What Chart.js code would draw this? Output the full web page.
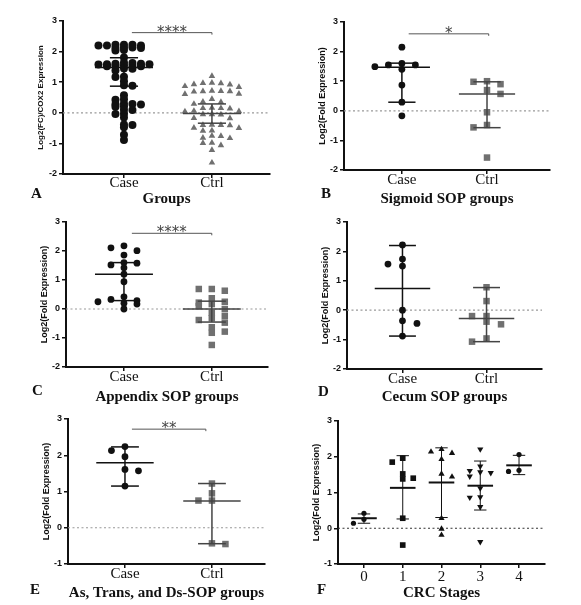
<!DOCTYPE html>
<html><head><meta charset="utf-8">
<script src="https://cdn.jsdelivr.net/npm/chart.js@4.4.0/dist/chart.umd.min.js"></script>
<style>
html,body{margin:0;padding:0;background:#fff;width:581px;height:605px;overflow:hidden;position:relative;}
canvas{position:absolute;}
.lt{position:absolute;font:bold 15px 'Liberation Serif',serif;color:#111;line-height:18px;}
</style></head><body>
<script>
// ---------------- data ----------------
const groupLabels = ['Case', 'Ctrl'];
const stageLabels = ['0', '1', '2', '3', '4'];
const yTicksFull = [-2, -1, 0, 1, 2, 3];
const yTicksShort = [-1, 0, 1, 2, 3];

// Panel A: Groups
const caseA = [2.22,2.22,2.22,2.2,2.2,2.2,2.13,2.13,2.12,2.12,2.05,2.04,1.81,1.64,1.63,1.6,1.6,1.59,1.59,1.58,1.55,1.54,1.53,1.52,1.52,1.45,1.44,1.38,1.18,1.17,1.03,0.9,0.88,0.57,0.44,0.43,0.3,0.29,0.28,0.27,0.21,0.2,0.1,0.09,-0.03,-0.04,-0.15,-0.4,-0.38,-0.47,-0.72,-0.89];
const ctrlA = [1.2,0.98,0.97,0.96,0.93,0.92,0.87,0.84,0.72,0.71,0.7,0.7,0.69,0.62,0.61,0.45,0.36,0.35,0.29,0.16,0.15,0.15,0.14,0.06,0.05,0.04,-0.05,-0.05,-0.06,-0.17,-0.18,-0.39,-0.4,-0.4,-0.41,-0.49,-0.5,-0.58,-0.59,-0.75,-0.76,-0.82,-0.83,-0.98,-0.99,-1.06,-1.22,-1.63];
// Panel B: Sigmoid SOP groups
const caseB = [2.15,1.6,1.55,1.55,1.49,1.4,0.87,0.29,-0.17];
const ctrlB = [1.0,0.98,0.9,0.7,0.57,-0.05,-0.48,-0.56,-1.58];
// Panel C: Appendix SOP groups
const caseC = [2.18,2.11,2.01,1.86,1.6,1.58,1.52,1.42,1.2,0.94,0.42,0.33,0.29,0.25,0.2,0.17,0.0];
const ctrlC = [0.69,0.69,0.63,0.37,0.25,0.22,0.17,0.1,0.0,-0.13,-0.24,-0.32,-0.38,-0.47,-0.63,-0.78,-0.82,-1.24];
// Panel D: Cecum SOP groups
const caseD = [2.22,1.74,1.57,1.5,0.0,-0.36,-0.45,-0.88];
const ctrlD = [0.78,0.31,-0.2,-0.2,-0.39,-0.48,-0.96,-1.07];
// Panel E: As, Trans, and Ds-SOP groups
const caseE = [2.24,2.13,1.96,1.61,1.57,1.15];
const ctrlE = [1.22,0.95,0.75,0.75,-0.43,-0.45];
// Panel F: CRC stages
const stage0 = [0.42,0.25,0.14];
const stage1 = [1.96,1.85,1.52,1.4,1.38,0.28,-0.47];
const stage2 = [2.21,2.14,2.1,1.93,1.52,1.44,0.28,-0.02,-0.19];
const stage3 = [2.21,1.73,1.61,1.57,1.55,1.45,1.12,0.87,0.86,0.6,-0.38];
const stage4 = [2.06,1.62,1.59];

// summary lines: [median, lower quartile, upper quartile]
const statsA = [[1.48,0.87,1.8],[-0.02,-0.34,0.29]];
const statsB = [[1.47,0.29,1.61],[0.57,-0.57,0.98]];
const statsC = [[1.2,0.29,1.6],[0.0,-0.45,0.27]];
const statsD = [[0.74,-0.88,2.2],[-0.28,-1.07,0.77]];
const statsE = [[1.79,1.15,2.23],[0.74,-0.44,1.22]];
const statsF = [[0.28,0.14,0.4],[1.13,0.26,2.03],[1.28,0.3,2.25],[1.19,0.51,1.88],[1.76,1.5,2.04]];

// significance brackets: [label, y level, from, to]
const sigA = ['****', 2.62, 1.09, 2.0];
const sigB = ['*', 2.6, 1.08, 2.02];
const sigC = ['****', 2.61, 1.09, 2.0];
const sigE = ['**', 2.72, 1.08, 1.93];

// ---------------- layout / styling ----------------
const BLACK = '#111', GREY = '#707070';
const panels = [
 {letter:'A', lx:31, ly:184, axisX:63, top:21, bottom:174, right:270, hx:34, tp:-4, xmin:0.307, xmax:2.66,
  ymin:-2, ymax:3, yticks:yTicksFull, ytitle:'Log2(FC)/COX2 Expression', ytSize:8, title:'Groups',
  cats:groupLabels, groups:[caseA, ctrlA], stats:statsA, sig:sigA, d:[8.5, 9], h:[2.2, 5],
  styles:[{ps:'circle',r:4,c:BLACK,lc:BLACK},{ps:'triangle',r:3.8,c:GREY,lc:'#444'}], zc:'#999', medW:1.5, barW:1.5},
 {letter:'B', lx:321, ly:184, axisX:344, top:22, bottom:170, right:550, hx:38, tp:-3, xmin:0.32, xmax:2.74,
  ymin:-2, ymax:3, yticks:yTicksFull, ytitle:'Log2(Fold Expression)', ytSize:9, title:'Sigmoid SOP groups',
  cats:groupLabels, groups:[caseB, ctrlB], stats:statsB, sig:sigB, d:[13.5, 13.5], h:[5, 5],
  styles:[{ps:'circle',r:3.4,c:BLACK,lc:BLACK},{ps:'rect',r:4.6,c:GREY,lc:'#444'}], zc:'#999', medW:1.5, barW:1.5},
 {letter:'C', lx:32, ly:381, axisX:66, top:222, bottom:367, right:268, hx:39, tp:-3, xmin:0.34, xmax:2.64,
  ymin:-2, ymax:3, yticks:yTicksFull, ytitle:'Log2(Fold Expression)', ytSize:9, title:'Appendix SOP groups',
  cats:groupLabels, groups:[caseC, ctrlC], stats:statsC, sig:sigC, d:[13, 13], h:[5, 5],
  styles:[{ps:'circle',r:3.4,c:BLACK,lc:BLACK},{ps:'rect',r:4.6,c:GREY,lc:'#444'}], zc:'#999', medW:1.5, barW:1.5},
 {letter:'D', lx:318, ly:382, axisX:347, top:222, bottom:369, right:542, hx:37, tp:-3, xmin:0.34, xmax:2.66,
  ymin:-2, ymax:3, yticks:yTicksFull, ytitle:'Log2(Fold Expression)', ytSize:9, title:'Cecum SOP groups',
  cats:groupLabels, groups:[caseD, ctrlD], stats:statsD, sig:null, d:[14.5, 14.5], h:[5, 5],
  styles:[{ps:'circle',r:3.4,c:BLACK,lc:BLACK},{ps:'rect',r:4.6,c:GREY,lc:'#444'}], zc:'#999', medW:1.5, barW:1.5},
 {letter:'E', lx:30, ly:580, axisX:68, top:419, bottom:564, right:265, hx:38, tp:-3, xmin:0.345, xmax:2.61,
  ymin:-1, ymax:3, yticks:yTicksShort, ytitle:'Log2(Fold Expression)', ytSize:9, title:'As, Trans, and Ds-SOP groups',
  cats:groupLabels, groups:[caseE, ctrlE], stats:statsE, sig:sigE, d:[13.5, 13.5], h:[5, 5],
  styles:[{ps:'circle',r:3.4,c:BLACK,lc:BLACK},{ps:'rect',r:4.6,c:GREY,lc:'#444'}], zc:'#999', medW:1.5, barW:1.5},
 {letter:'F', lx:317, ly:580, axisX:338, top:421, bottom:564, right:545, hx:38, tp:0, xmin:-0.67, xmax:4.67,
  ymin:-1, ymax:3, yticks:yTicksShort, ytitle:'Log2(Fold Expression)', ytSize:9, title:'CRC Stages',
  cats:stageLabels, groups:[stage0, stage1, stage2, stage3, stage4], stats:statsF, sig:null,
  d:[10.5, 10.5, 10.5, 10.5, 10.5], h:[5, 5, 5, 5, 5], xzero:true,
  styles:[{ps:'circle',r:2.6,c:BLACK,lc:BLACK},{ps:'rect',r:4,c:BLACK,lc:BLACK},{ps:'triangle',r:3.6,c:BLACK,lc:BLACK},
          {ps:'triangle',r:3.6,c:BLACK,lc:BLACK,rot:180},{ps:'circle',r:2.6,c:BLACK,lc:BLACK}], zc:'#333', medW:2, barW:1}
];

// Row-based dot-plot spread (values within h pixels of a row's first value share the row)
function swarm(vals, pxY, d, h) {
  const out = new Array(vals.length);
  const idx = vals.map((v, i) => i).sort((a, b) => vals[b] - vals[a]);
  const rows = [];
  let cur = null;
  for (const i of idx) {
    if (!cur || (vals[cur[0]] - vals[i]) * pxY > h) { cur = [i]; rows.push(cur); }
    else cur.push(i);
  }
  let flip = 1;
  for (const row of rows) {
    const slots = [0];
    for (let k = 1; slots.length < row.length; k++) { slots.push(-k * flip); if (slots.length < row.length) slots.push(k * flip); }
    if (row.length > 1) flip = -flip;
    row.forEach((i, j) => { out[i] = slots[j] * d; });
  }
  return out;
}

const statPlugin = {
  id: 'stats',
  afterDatasetsDraw(chart, args, o) {
    const {ctx} = chart, xs = chart.scales.x, ys = chart.scales.y;
    const X = v => xs.getPixelForValue(v), Y = v => ys.getPixelForValue(v);
    const seg = (x1, y1, x2, y2) => { ctx.beginPath(); ctx.moveTo(x1, y1); ctx.lineTo(x2, y2); ctx.stroke(); };
    ctx.save();
    o.stats.forEach((s, i) => {
      const cx = o.centers[i];
      ctx.strokeStyle = o.colors[i];
      ctx.lineWidth = o.medW;
      seg(X(cx - 0.33), Y(s[0]), X(cx + 0.33), Y(s[0]));
      ctx.lineWidth = o.barW;
      seg(X(cx), Y(s[1]), X(cx), Y(s[2]));
      seg(X(cx - 0.16), Y(s[1]), X(cx + 0.16), Y(s[1]));
      seg(X(cx - 0.16), Y(s[2]), X(cx + 0.16), Y(s[2]));
    });
    if (o.sig) {
      const [lab, lv, a, b] = o.sig;
      ctx.strokeStyle = '#555'; ctx.lineWidth = 1;
      ctx.beginPath(); ctx.moveTo(X(a), Y(lv)); ctx.lineTo(X(b), Y(lv)); ctx.lineTo(X(b), Y(lv) + 2); ctx.stroke();
      ctx.fillStyle = '#444'; ctx.font = '15px "DejaVu Sans"'; ctx.textAlign = 'center'; ctx.textBaseline = 'alphabetic';
      ctx.fillText(lab, X((a + b) / 2), Y(lv) + 4);
    }
    ctx.restore();
  }
};

panels.forEach(p => {
  const WY = 27, PT = 10, PR = 6;
  const w = (p.right - p.axisX) + WY + PR, h = (p.bottom - p.top) + PT + p.hx;
  const cv = document.createElement('canvas');
  cv.width = w; cv.height = h;
  cv.style.left = (p.axisX - WY) + 'px'; cv.style.top = (p.top - PT) + 'px';
  cv.style.width = w + 'px'; cv.style.height = h + 'px';
  document.body.appendChild(cv);
  const lt = document.createElement('div');
  lt.className = 'lt'; lt.textContent = p.letter; lt.style.left = p.lx + 'px'; lt.style.top = p.ly + 'px';
  document.body.appendChild(lt);

  const centers = p.cats.map((c, i) => p.xzero ? i : i + 1);
  const datasets = p.groups.map((vals, gi) => {
    const st = p.styles[gi];
    return {type: 'scatter', data: vals.map(v => ({x: centers[gi], y: v})), pointStyle: st.ps, pointRadius: st.r,
      pointRotation: st.rot || 0, backgroundColor: st.c, borderColor: st.c, borderWidth: 0, pointHoverRadius: st.r, order: 1};
  });
  datasets.push({type: 'line', data: [{x: p.xmin, y: 0}, {x: p.xmax, y: 0}], borderColor: p.zc, borderWidth: 1.2,
    borderDash: [2, 2.5], pointRadius: 0, order: 5});

  const chart = new Chart(cv, {
    type: 'scatter',
    data: {datasets},
    plugins: [statPlugin],
    options: {
      responsive: false, animation: false, devicePixelRatio: 1,
      layout: {padding: {top: PT, right: PR, left: 0, bottom: 0}},
      plugins: {legend: {display: false}, tooltip: {enabled: false},
        stats: {stats: p.stats, centers, colors: p.styles.map(s => s.lc), medW: p.medW, barW: p.barW, sig: p.sig}},
      scales: {
        x: {type: 'linear', min: p.xmin, max: p.xmax,
          afterBuildTicks: s => { s.ticks = centers.map(v => ({value: v})); },
          afterFit: s => { s.height = p.hx; },
          ticks: {callback: (v, i) => p.cats[i], autoSkip: false, maxRotation: 0,
            font: {family: 'Liberation Serif', size: 15}, color: BLACK, padding: p.tp},
          grid: {drawOnChartArea: false, drawTicks: true, tickLength: 4, color: BLACK, lineWidth: 1.5},
          border: {display: true, color: BLACK, width: 2},
          title: {display: true, text: p.title, color: BLACK, padding: {top: 0, bottom: 0},
            font: {family: 'Liberation Serif', size: 15, weight: 'bold'}}},
        y: {min: p.ymin, max: p.ymax,
          afterBuildTicks: s => { s.ticks = p.yticks.map(v => ({value: v})); },
          afterFit: s => { s.width = WY; },
          ticks: {font: {family: 'Liberation Sans', size: 9, weight: 'bold'}, color: BLACK, padding: 2},
          grid: {drawOnChartArea: false, drawTicks: true, tickLength: 4, color: BLACK, lineWidth: 1.5},
          border: {display: true, color: BLACK, width: 2},
          title: {display: true, text: p.ytitle, color: BLACK, padding: {top: 0, bottom: 0},
            font: {family: 'Liberation Sans', size: p.ytSize, weight: 'bold'}}}
      }
    }
  });
  const pxY = Math.abs(chart.scales.y.getPixelForValue(1) - chart.scales.y.getPixelForValue(0));
  const pxX = Math.abs(chart.scales.x.getPixelForValue(1) - chart.scales.x.getPixelForValue(0));
  p.groups.forEach((vals, gi) => {
    const off = swarm(vals, pxY, p.d[gi], p.h[gi]);
    chart.data.datasets[gi].data = vals.map((v, i) => ({x: centers[gi] + off[i] / pxX, y: v}));
  });
  chart.update('none');
});
</script>
</body></html>
